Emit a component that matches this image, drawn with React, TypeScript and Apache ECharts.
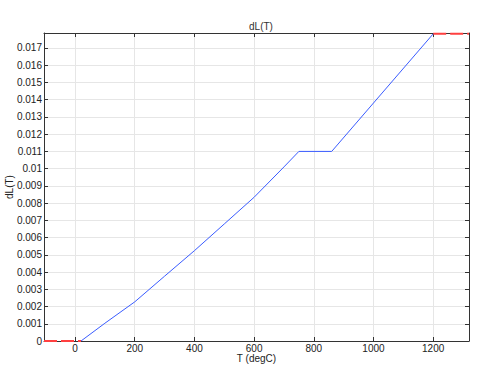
import React, { useEffect, useRef } from "react";
import * as echarts from "echarts";

const curveT = [20, 100, 200, 300, 400, 500, 600, 700, 750, 860, 1200];
const curveV = [0, 0.00103, 0.00227, 0.00376, 0.00524, 0.00679, 0.00834, 0.0101, 0.011, 0.011, 0.01782];
const extrapLeftT = [-104, 20];
const extrapLeftV = [0, 0];
const extrapRightT = [1200, 1320];
const extrapRightV = [0.01782, 0.01782];

const X_MIN = -104;
const X_MAX = 1320;
const Y_MIN = 0;
const Y_MAX = 0.01787;

const FONT = "Liberation Sans";

function zip(a: number[], b: number[]) {
  return a.map((v, i) => [v, b[i]]);
}

export default function App() {
  const ref = useRef<HTMLDivElement>(null);
  useEffect(() => {
    if (!ref.current) return;
    const chart = echarts.init(ref.current, undefined, { renderer: "svg" });
    const axisLine = { show: true, onZero: false, lineStyle: { color: "#333", width: 1 } };
    const tickIn = { show: true, inside: true, length: 4, lineStyle: { color: "#333" } };
    const split = { show: true, lineStyle: { color: "#e6e6e6", width: 1 } };
    const blue = { color: "#3a5cff", width: 1 };
    const red = { color: "#ff4040", width: 2, type: [13, 4] };
    chart.setOption({
      animation: false,
      backgroundColor: "#fff",
      title: {
        text: "dL(T)",
        left: 256,
        top: 16,
        textAlign: "center",
        textStyle: { fontSize: 10, fontWeight: "normal", color: "#333", fontFamily: FONT },
      },
      grid: { left: 44, right: 29, top: 33, bottom: 37, containLabel: false, outerBoundsMode: "none" },
      xAxis: [
        {
          type: "value",
          min: X_MIN,
          max: X_MAX,
          splitNumber: 7,
          minInterval: 200,
          maxInterval: 200,
          name: "T (degC)",
          nameLocation: "middle",
          nameGap: 12,
          nameMoveOverlap: false,
          nameTextStyle: { fontSize: 10, lineHeight: 10, color: "#222", fontFamily: FONT },
          axisLine,
          axisTick: tickIn,
          splitLine: split,
          axisLabel: {
            showMinLabel: false,
            showMaxLabel: false,
            fontSize: 10,
            lineHeight: 10,
            color: "#222",
            margin: 2,
            fontFamily: FONT,
            formatter: (v: number) => String(Math.round(v)),
          },
        },
        {
          type: "value",
          position: "top",
          min: X_MIN,
          max: X_MAX,
          splitNumber: 7,
          minInterval: 200,
          maxInterval: 200,
          axisLine,
          axisTick: tickIn,
          splitLine: { show: false },
          axisLabel: { show: false },
        },
      ],
      yAxis: [
        {
          type: "value",
          min: Y_MIN,
          max: Y_MAX,
          interval: 0.001,
          name: "dL(T)",
          nameLocation: "middle",
          nameGap: 30,
          nameMoveOverlap: false,
          nameTextStyle: { fontSize: 10, color: "#222", fontFamily: FONT },
          axisLine,
          axisTick: tickIn,
          splitLine: split,
          axisLabel: {
            showMaxLabel: false,
            fontSize: 10,
            color: "#222",
            margin: 2,
            fontFamily: FONT,
            formatter: (v: number) => String(Number(v.toFixed(4))),
          },
        },
        {
          type: "value",
          position: "right",
          min: Y_MIN,
          max: Y_MAX,
          interval: 0.001,
          axisLine,
          axisTick: tickIn,
          splitLine: { show: false },
          axisLabel: { show: false },
        },
      ],
      series: [
        {
          type: "line",
          data: zip(curveT, curveV),
          showSymbol: false,
          lineStyle: blue,
          z: 3,
        },
        {
          type: "line",
          data: zip(extrapLeftT, extrapLeftV),
          showSymbol: false,
          lineStyle: red,
          z: 2,
        },
        {
          type: "line",
          data: zip(extrapRightT, extrapRightV),
          showSymbol: false,
          lineStyle: red,
          z: 2,
        },
      ],
    });
    return () => chart.dispose();
  }, []);
  return <div ref={ref} style={{ width: 498, height: 378, position: "absolute", left: 0, top: 0 }} />;
}
